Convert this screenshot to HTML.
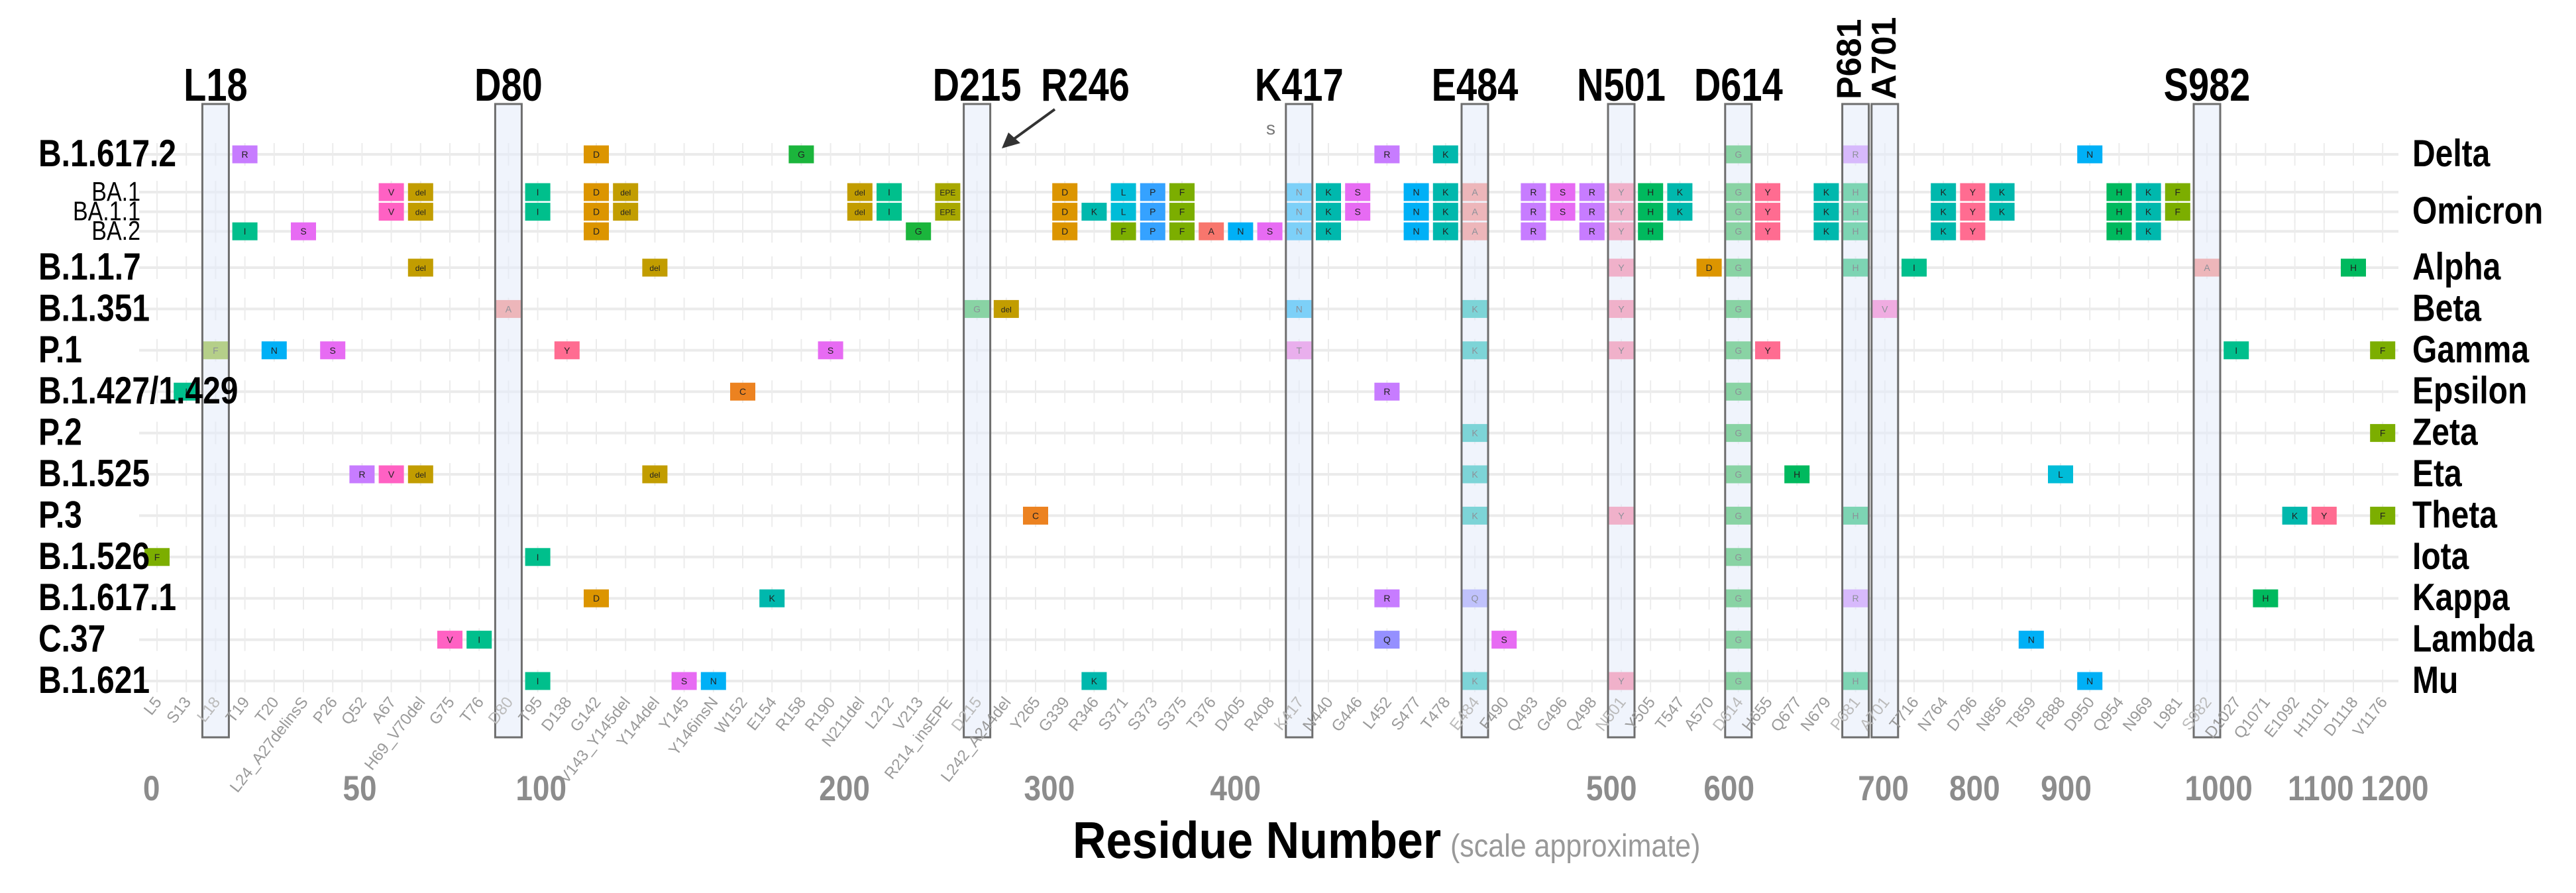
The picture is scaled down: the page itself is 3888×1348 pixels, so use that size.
<!DOCTYPE html>
<html><head><meta charset="utf-8">
<style>
html,body{margin:0;padding:0;background:#fff;}
svg{display:block;font-family:"Liberation Sans",sans-serif;}
</style></head>
<body>
<svg id="chart" width="3888" height="1348" viewBox="0 0 3888 1348" xmlns="http://www.w3.org/2000/svg">
<g id="grid"></g>
<g id="tiles"></g>
<g id="boxes"></g>
<g id="labels"></g>
<text x="1911" y="203" font-size="28" fill="#777">s</text>
<g>
<line x1="1592" y1="165" x2="1530" y2="210" stroke="#333" stroke-width="4"/>
<polygon points="1512,224 1522,200 1540,216" fill="#333"/>
</g>
<text x="1619" y="1295" font-size="70" font-weight="bold" fill="#000" transform="translate(0,1295) scale(1,1.12) translate(0,-1295)">Residue Number</text>
<text x="2189" y="1293" font-size="43" fill="#999" transform="translate(0,1293) scale(1,1.12) translate(0,-1293)">(scale approximate)</text>
</svg>
<script>
const columns = ['L5','S13','L18','T19','T20','L24_A27delinsS','P26','Q52','A67','H69_V70del','G75','T76','D80','T95','D138','G142','V143_Y145del','Y144del','Y145','Y146insN','W152','E154','R158','R190','N211del','L212','V213','R214_insEPE','D215','L242_A244del','Y265','G339','R346','S371','S373','S375','T376','D405','R408','K417','N440','G446','L452','S477','T478','E484','F490','Q493','G496','Q498','N501','Y505','T547','A570','D614','H655','Q677','N679','P681','A701','T716','N764','D796','N856','T859','F888','D950','Q954','N969','L981','S982','D1027','Q1071','E1092','H1101','D1118','V1176'];
const columnResidues = [5,13,18,19,20,24,26,52,67,69,75,76,80,95,138,142,143,144,145,146,152,154,158,190,211,212,213,214,215,242,265,339,346,371,373,375,376,405,408,417,440,446,452,477,478,484,490,493,496,498,501,505,547,570,614,655,677,679,681,701,716,764,796,856,859,888,950,954,969,981,982,1027,1071,1092,1101,1118,1176];
const highlighted = ['L18','D80','D215','K417','E484','N501','D614','P681','A701','S982'];
const headerLabels = ['L18','D80','D215','K417','E484','N501','D614','S982'];
const rotatedHeaders = ['P681','A701'];
const tickValues = [0,50,100,200,300,400,500,600,700,800,900,1000,1100,1200];
const rowNames = ['B.1.617.2','BA.1','BA.1.1','BA.2','B.1.1.7','B.1.351','P.1','B.1.427/1.429','P.2','B.1.525','P.3','B.1.526','B.1.617.1','C.37','B.1.621'];
const whoNames = ['Delta','Omicron','Alpha','Beta','Gamma','Epsilon','Zeta','Eta','Theta','Iota','Kappa','Lambda','Mu'];
const mutDelta = [['T19','R'],['G142','D'],['R158','G'],['L452','R'],['T478','K'],['D614','G'],['P681','R'],['D950','N']];
const mutBA1 = [['A67','V'],['H69_V70del','del'],['T95','I'],['G142','D'],['V143_Y145del','del'],['N211del','del'],['L212','I'],['R214_insEPE','EPE'],['G339','D'],['S371','L'],['S373','P'],['S375','F'],['K417','N'],['N440','K'],['G446','S'],['S477','N'],['T478','K'],['E484','A'],['Q493','R'],['G496','S'],['Q498','R'],['N501','Y'],['Y505','H'],['T547','K'],['D614','G'],['H655','Y'],['N679','K'],['P681','H'],['N764','K'],['D796','Y'],['N856','K'],['Q954','H'],['N969','K'],['L981','F']];
const mutBA11 = mutBA1.concat([['R346','K']]);
const mutBA2 = [['T19','I'],['L24_A27delinsS','S'],['G142','D'],['V213','G'],['G339','D'],['S371','F'],['S373','P'],['S375','F'],['T376','A'],['D405','N'],['R408','S'],['K417','N'],['N440','K'],['S477','N'],['T478','K'],['E484','A'],['Q493','R'],['Q498','R'],['N501','Y'],['Y505','H'],['D614','G'],['H655','Y'],['N679','K'],['P681','H'],['N764','K'],['D796','Y'],['Q954','H'],['N969','K']];
const mutAlpha = [['H69_V70del','del'],['Y144del','del'],['N501','Y'],['A570','D'],['D614','G'],['P681','H'],['T716','I'],['S982','A'],['D1118','H']];
const mutBeta = [['D80','A'],['D215','G'],['L242_A244del','del'],['K417','N'],['E484','K'],['N501','Y'],['D614','G'],['A701','V']];
const mutGamma = [['L18','F'],['T20','N'],['P26','S'],['D138','Y'],['R190','S'],['K417','T'],['E484','K'],['N501','Y'],['D614','G'],['H655','Y'],['D1027','I'],['V1176','F']];
const mutEpsilon = [['S13','I'],['W152','C'],['L452','R'],['D614','G']];
const mutZeta = [['E484','K'],['D614','G'],['V1176','F']];
const mutEta = [['Q52','R'],['A67','V'],['H69_V70del','del'],['Y144del','del'],['E484','K'],['D614','G'],['Q677','H'],['F888','L']];
const mutTheta = [['Y265','C'],['E484','K'],['N501','Y'],['D614','G'],['P681','H'],['E1092','K'],['H1101','Y'],['V1176','F']];
const mutIota = [['L5','F'],['T95','I'],['D614','G']];
const mutKappa = [['G142','D'],['E154','K'],['L452','R'],['E484','Q'],['D614','G'],['P681','R'],['Q1071','H']];
const mutLambda = [['G75','V'],['T76','I'],['L452','Q'],['F490','S'],['D614','G'],['T859','N']];
const mutMu = [['T95','I'],['Y145','S'],['Y146insN','N'],['R346','K'],['E484','K'],['N501','Y'],['D614','G'],['P681','H'],['D950','N']];
const rowMutations = [mutDelta,mutBA1,mutBA11,mutBA2,mutAlpha,mutBeta,mutGamma,mutEpsilon,mutZeta,mutEta,mutTheta,mutIota,mutKappa,mutLambda,mutMu];

const COLORS = {A:'#f8766d',C:'#ec8220',D:'#dc9500',del:'#c29d00',EPE:'#a8a800',F:'#7cae00',G:'#1bb53c',H:'#00b95e',I:'#00bf8c',K:'#00b8ad',L:'#00bcd8',N:'#00b0f6',P:'#35a2ff',Q:'#9590ff',R:'#c77cff',S:'#e76bf3',T:'#f066dd',V:'#ff61c3',Y:'#ff6c91'};
const NS='http://www.w3.org/2000/svg';
function mk(tag, attrs, parent){const e=document.createElementNS(NS,tag);for(const k in attrs)e.setAttribute(k,attrs[k]);parent.appendChild(e);return e;}
function stretch(y,f){return 'translate(0,'+y+') scale(1,'+f+') translate(0,'+(-y)+')';}
function xCol(name){return 237 + columns.indexOf(name)*44.2;}
function xIdx(i){return 237 + i*44.2;}
function yRow(r){ if(r===0) return 233; if(r<=3) return 290 + (r-1)*29.6; return 404 + (r-4)*62.4; }
function xResidue(v){
  const n=columnResidues.length;
  if(v<=columnResidues[0]){return xIdx(0)-(columnResidues[0]-v)/(columnResidues[1]-columnResidues[0])*44.2*0.3;}
  for(let i=0;i<n-1;i++){ if(v>=columnResidues[i]&&v<=columnResidues[i+1]){return xIdx(i)+(v-columnResidues[i])/(columnResidues[i+1]-columnResidues[i])*44.2;} }
  return xIdx(n-1)+(v-columnResidues[n-1])/58*44.2;
}
const grid=document.getElementById('grid'), tiles=document.getElementById('tiles'), boxes=document.getElementById('boxes'), labels=document.getElementById('labels');

rowNames.forEach((rn,r)=>{
  const y=yRow(r);
  const hl=mk('line',{x1:210,y1:y,x2:3620,y2:y,stroke:'#ebebeb','stroke-width':4},grid);
  
  
  columns.forEach((c,i)=>{
    const vl=mk('line',{x1:xIdx(i),y1:y-17,x2:xIdx(i),y2:y+17,stroke:'#ececec','stroke-width':2},grid);
    
    
  });
});

rowMutations.forEach((muts,r)=>{
  const y=yRow(r);
  muts.forEach(m=>{
    const x=xCol(m[0]);
    const g=mk('g',{},tiles);
    
    
    mk('rect',{x:x-19,y:y-13.5,width:38,height:27,fill:COLORS[m[1]]||'#999'},g);
    const t=mk('text',{x:x,y:y+5,'text-anchor':'middle','font-size':m[1].length>1?12:14,fill:'#222'},g);
    t.textContent=m[1];
  });
});

highlighted.forEach(h=>{
  const x=xCol(h);
  const b=mk('rect',{x:x-20,y:157,width:40,height:956,fill:'rgba(228,235,250,0.55)',stroke:'#6e6e6e','stroke-width':3},boxes);
  
  
});

headerLabels.forEach(h=>{
  const t=mk('text',{x:xCol(h),y:152,'text-anchor':'middle','font-size':56,'font-weight':'bold',fill:'#000',transform:stretch(152,1.25)},labels);
  
  
  t.textContent=h;
});
const r246=mk('text',{x:1638,y:152,'text-anchor':'middle','font-size':56,'font-weight':'bold',fill:'#000',transform:stretch(152,1.25)},labels);


r246.textContent='R246';
rotatedHeaders.forEach((h,k)=>{
  const x=xCol(h)+(k===0?8:16);
  const t=mk('text',{x:x,y:150,'font-size':52,'font-weight':'bold',fill:'#000',transform:'rotate(-90 '+x+' 150)'},labels);
  
  
  t.textContent=h;
});

rowNames.forEach((rn,r)=>{
  const sub = (r>=1&&r<=3);
  const y = sub ? yRow(r)+13 : yRow(r)+18;
  const t=mk('text',sub?{x:212,y:y,'text-anchor':'end','font-size':34,fill:'#000',transform:stretch(y,1.2)}:{x:58,y:y,'font-size':48,'font-weight':'bold',fill:'#000',transform:stretch(y,1.2)},labels);
  
  
  t.textContent=rn;
});
const whoRows=[0,2,4,5,6,7,8,9,10,11,12,13,14];
whoNames.forEach((w,k)=>{
  const y=yRow(whoRows[k])+18;
  const t=mk('text',{x:3641,y:y,'font-size':48,'font-weight':'bold',fill:'#000',transform:stretch(y,1.2)},labels);
  
  
  t.textContent=w;
});

columns.forEach((c,i)=>{
  const x=xIdx(i)+8, y=1060;
  const t=mk('text',{x:x,y:y,'text-anchor':'end','font-size':24,fill:highlighted.includes(c)?'#bbb':'#9a9a9a',transform:'rotate(-52 '+x+' '+y+')'},labels);
  
  
  t.textContent=c;
});
tickValues.forEach(v=>{
  const t=mk('text',{x:xResidue(v),y:1208,'text-anchor':'middle','font-size':46,'font-weight':'bold',fill:'#8c8c8c',transform:stretch(1208,1.15)},labels);
  
  
  t.textContent=v;
});
</script>
</body></html>
